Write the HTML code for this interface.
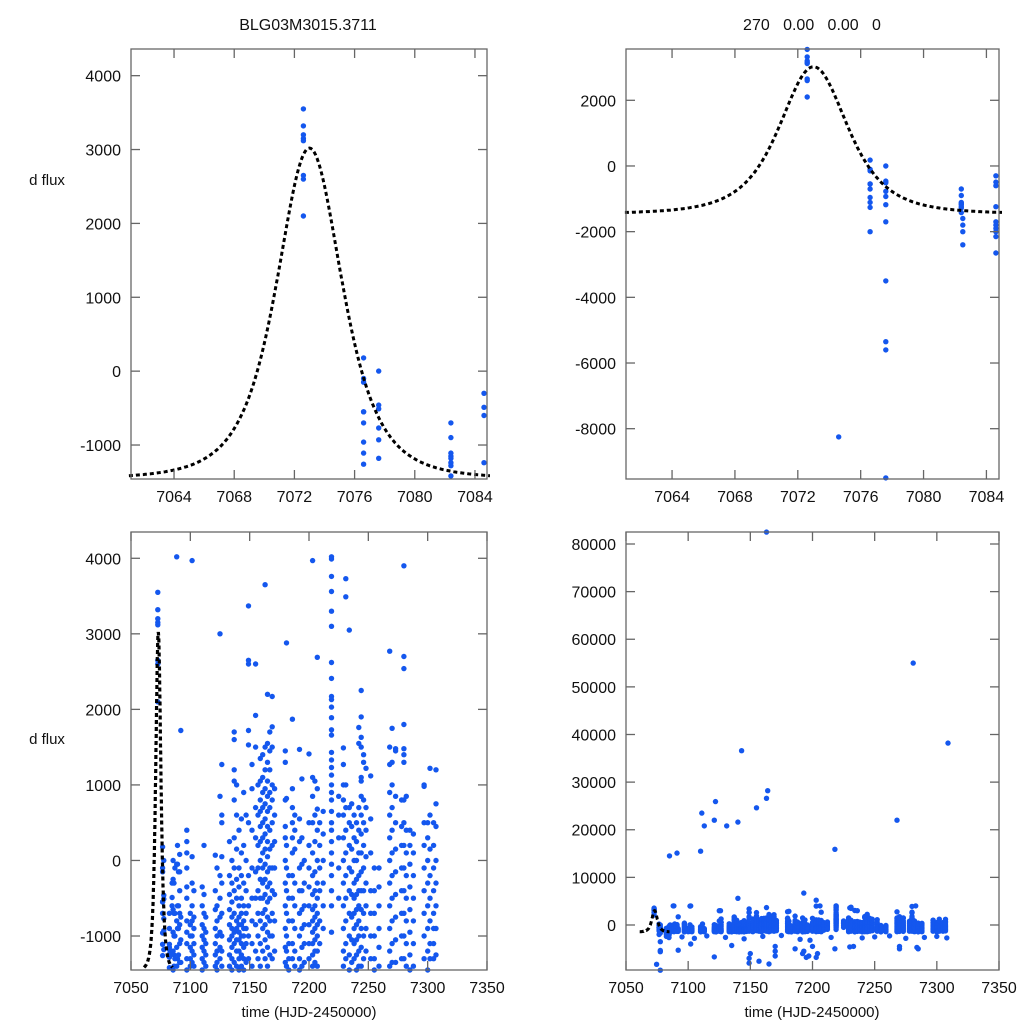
<!DOCTYPE html>
<html><head><meta charset="utf-8">
<style>
html,body{margin:0;padding:0;background:#fff;}
svg{display:block;font-family:"Liberation Sans",sans-serif;}
</style></head>
<body>
<svg id="fig" width="1024" height="1024" viewBox="0 0 1024 1024">
<text x="308" y="30" font-size="16" text-anchor="middle" fill="#111">BLG03M3015.3711</text>
<text x="812" y="30" font-size="16" text-anchor="middle" fill="#111" xml:space="preserve">270   0.00   0.00   0</text>
<text x="47" y="185" font-size="15" text-anchor="middle" fill="#111">d flux</text>
<text x="47" y="744" font-size="15" text-anchor="middle" fill="#111">d flux</text>
<text x="309" y="1017" font-size="15" text-anchor="middle" fill="#111">time (HJD-2450000)</text>
<text x="812" y="1017" font-size="15" text-anchor="middle" fill="#111">time (HJD-2450000)</text>
</svg>
<script>
// ---- data ----
const nightTimes = [7072.6,7076.6,7077.6,7086.2,7089.2,7082.4,7091,7084.6,7085.5,7087,7088.5,7090,7092,7097,7100,7101.5,7103,7110,7111.5,7113,7121,7122.5,7125,7126.5,7133,7135,7137,7139,7141,7143,7145,7147,7149,7152,7155,7157,7159,7161,7163,7165,7167,7169,7171,7180,7181,7183,7186,7188,7192,7194,7196,7200,7203,7205,7207,7209,7212,7219,7225,7229,7231,7234,7236,7238,7240,7242,7244,7246,7248,7252,7255,7259,7268,7270,7273,7278,7280,7282,7285,7288,7297,7300,7302,7305,7307];
const nightValues = [
[3550,3320,3200,3150,3120,2650,2600,2100],
[180,-100,-150,-550,-550,-700,-960,-1110,-1260],
[0,-460,-510,-770,-930,-1180],
[-300,-700,-1000,-1250,-1400],
[200,-50,-600,-900,-1300],
[-700,-900,-1110,-1150,-1180,-1240,-1280,-1420],
[80,-150,-400,-700,-850,-1100,-1350],
[-300,-490,-600,-1240],
[0,-250,-650,-950,-1200,-1450],
[-100,-700,-1000,-1300],
[4020,-50,-800,-1150,-1400],
[-150,-600,-900,-1250],
[1720,-750,-1050,-1350],
[400,250,100,-100,-350,-500,-800,-950,-1100,-1300,-1450],
[-700,-850,-1000,-1150,-1300,-1400],
[3970,50,-300,-600,-800,-1000,-1200,-1350],
[-400,-750,-900,-1100,-1250,-1400],
[-350,-600,-850,-1000,-1150,-1300,-1450],
[200,-450,-700,-900,-1050,-1200,-1350],
[-750,-950,-1100,-1250,-1400],
[70,-400,-650,-900,-1100,-1250,-1400],
[-100,-600,-800,-1000,-1200,-1350,-1450],
[3000,850,-200,-500,-750,-950,-1150,-1300],
[1270,600,500,50,-300,-700,-1000,-1200,-1400],
[250,-200,-450,-650,-850,-1050,-1250,-1400],
[0,-300,-550,-750,-900,-1000,-1150,-1300,-1450],
[1700,1600,1200,1050,800,300,-100,-400,-700,-950,-1100,-1350],
[1000,600,150,-250,-500,-800,-900,-1050,-1200,-1400],
[400,-100,-350,-600,-750,-850,-950,-1050,-1200,-1300,-1450],
[550,100,-200,-500,-700,-850,-1000,-1100,-1250,-1400],
[900,200,-300,-600,-800,-900,-1000,-1150,-1300,-1450],
[600,0,-400,-700,-900,-1100,-1350],
[3370,2650,2600,1720,1530,500,-200,-600,-1000,-1300],
[1270,950,400,-100,-500,-800,-1100,-1400],
[2600,1920,1500,700,300,-150,-500,-850,-1200],
[1000,600,200,-100,-400,-700,-1000,-1300],
[1350,1050,800,650,450,250,0,-250,-500,-800,-1100,-1400],
[1400,1100,900,700,500,300,100,-100,-300,-500,-700,-900,-1200],
[3650,1500,1200,950,750,550,350,150,-50,-250,-450,-650,-850,-1050,-1300],
[2200,1550,1300,1050,850,650,450,250,50,-150,-350,-550,-750,-950,-1150,-1400],
[1700,1450,1200,900,700,400,150,-100,-300,-500,-800,-1000,-1250],
[2170,1770,1500,1000,800,500,200,-100,-400,-700,-1000,-1300],
[950,600,250,-100,-450,-800,-1200],
[1450,1300,800,450,300,0,-300,-600,-900,-1150,-1350],
[2880,820,200,-100,-400,-700,-1000,-1200,-1400],
[-200,-500,-800,-1100,-1300,-1450],
[1870,950,700,500,300,100,-200,-500,-800,-1100,-1300],
[600,400,150,-300,-600,-900,-1200,-1400],
[1470,550,250,-100,-400,-700,-1000,-1300,-1450],
[1080,300,-50,-400,-650,-900,-1150,-1400],
[0,-300,-600,-850,-1100,-1350],
[1410,500,200,-100,-350,-600,-850,-1100,-1300],
[3970,1100,850,500,100,-200,-450,-650,-800,-950,-1100,-1250,-1400],
[1050,600,250,-150,-400,-600,-750,-900,-1050,-1200,-1350],
[2690,950,680,400,0,-300,-500,-700,-850,-1000,-1200,-1400],
[500,200,-100,-400,-800,-1100],
[650,350,0,-300,-600,-900],
[4020,3990,3760,3560,3300,3100,2620,2410,2170,2130,2030,1890,1730,1660,1430,1330,1230,1130,1000,900,800,650,500,400,250,100,-50,-200,-400,-600,-950],
[850,600,300,-100,-500],
[1490,1270,1000,800,600,300,0,-300,-600,-900,-1200,-1400],
[3730,3490,1000,700,400,100,-200,-500,-800,-1100,-1300],
[3050,700,500,200,-100,-400,-700,-1000,-1250,-1450],
[750,450,150,-150,-450,-750,-1050,-1350],
[600,300,0,-300,-500,-700,-900,-1100,-1300],
[500,250,0,-250,-450,-650,-850,-1050,-1250,-1450],
[1760,1550,700,400,100,-200,-400,-600,-800,-1000,-1200,-1400],
[2250,1900,1630,1500,1100,1050,850,600,350,100,-150,-400,-650,-900,-1150,-1400],
[1400,1300,800,500,200,-100,-400,-700,-1000,-1300],
[1220,700,400,50,-300,-600,-900,-1200],
[1120,550,100,-400,-700,-1000,-1300],
[-100,-400,-700,-1000,-1300,-1450],
[-100,-350,-600,-900,-1150,-1400],
[2770,1500,1270,900,600,300,0,-300,-600,-900,-1200,-1400],
[1750,1300,1000,700,400,100,-200,-500,-800,-1100,-1350],
[1480,1450,850,500,150,-150,-450,-750,-1050,-1350],
[800,450,200,-100,-400,-700,-1000,-1300],
[3900,2700,2540,1800,1480,1400,1300,800,500,200,-100,-400,-700,-1000,-1300],
[850,400,100,-200,-500,-800,-1100,-1400],
[400,200,-50,-350,-650,-950,-1250,-1450],
[350,100,-200,-500,-800,-1100,-1400],
[1000,980,500,200,-100,-400,-700,-1000,-1300],
[500,300,0,-300,-600,-900,-1200,-1450],
[1220,600,150,-200,-500,-800,-1100,-1300],
[500,200,-100,-400,-700,-900,-1100,-1300],
[1200,750,450,0,-300,-600,-900,-1250]
];
// raw-only points (not in cleaned set)
const rawTimes = [7076.6,7077.6,7077.6,7077.6,7077.6,7077.6,7074.6,7082.5,7082.5,7082.5,7082.5,7084.6,7084.6,7084.6,7084.6,7084.6,7084.6,
7085,7091,7110,7111,7113,7121,7122,7131,7140,7143,7155,7163,7164,7163,7218,7268,7281,7309,7193,7140,7203,7206,7088,7102,7126,7180,7236,7283,7230,
7092,7102,7121,7135,7149,7149,7150,7157,7165,7170,7170,7170,7186,7192,7193,7195,7197,7200,7203,7204,7218,7230,7233,7270,7270,7285,7284,
7095,7105,7115,7130,7145,7160,7175,7190,7198,7215,7240,7250,7262,7275,7290,7300,7308];
const rawValues = [-2000,-1700,-3500,-5350,-5600,-9500,-8250,-1600,-1800,-2000,-2400,-1700,-1800,-1900,-2000,-2150,-2650,
14500,15100,15500,23500,20800,22000,25900,20800,21600,36600,24600,26600,28200,82500,15900,22000,55000,38200,6700,5600,5200,4000,4000,4000,3000,2800,3000,4000,3600,
-5300,-4000,-6700,-4300,-8000,-7000,-6000,-7600,-8200,-6500,-5500,-4500,-5000,-6000,-5500,-6800,-6500,-4500,-6800,-6000,-5000,-4600,-4500,-5000,-4500,-5000,-4700,
-2500,-2800,-2300,-2600,-2900,-2400,-2200,-3000,-3200,-2600,-2700,-2500,-2300,-2800,-2600,-2400,-2700];
// microlensing model parameters: t0, peak height, baseline, width
const modelT0 = [7073];
const modelPeak = [4480];
const modelBase = [-1460];
const modelWidth = [4];
const modelRange = [7061, 7085];

const panels = [
 {name:'top-left',  x0:131,x1:487,y0:49,y1:479, xmin:7061.14,xmax:7084.8, ymin:-1460,ymax:4361, xt:[7064,7068,7072,7076,7080,7084], yt:[-1000,0,1000,2000,3000,4000], raw:false, lw:3},
 {name:'top-right', x0:626,x1:999,y0:49,y1:479, xmin:7061.07,xmax:7084.8, ymin:-9532,ymax:3562, xt:[7064,7068,7072,7076,7080,7084], yt:[-8000,-6000,-4000,-2000,0,2000], raw:true, lw:3},
 {name:'bottom-left', x0:131,x1:487,y0:532,y1:970, xmin:7050,xmax:7350, ymin:-1450,ymax:4348, xt:[7050,7100,7150,7200,7250,7300,7350], yt:[-1000,0,1000,2000,3000,4000], raw:false, lw:3.2},
 {name:'bottom-right', x0:626,x1:999,y0:532,y1:970, xmin:7050,xmax:7350, ymin:-9450,ymax:82520, xt:[7050,7100,7150,7200,7250,7300,7350], yt:[0,10000,20000,30000,40000,50000,60000,70000,80000], raw:true, lw:3}
];

const NS='http://www.w3.org/2000/svg';
const svg=document.getElementById('fig');
function mk(tag,attrs,parent){const e=document.createElementNS(NS,tag);for(const k in attrs)e.setAttribute(k,attrs[k]);(parent||svg).appendChild(e);return e;}
function model(t){const x=(t-modelT0[0])/modelWidth[0];return modelBase[0]+modelPeak[0]/Math.pow(1+x*x,2);}

panels.forEach((p,pi)=>{
  const sx=v=>p.x0+(v-p.xmin)/(p.xmax-p.xmin)*(p.x1-p.x0);
  const sy=v=>p.y1-(v-p.ymin)/(p.ymax-p.ymin)*(p.y1-p.y0);
  const g=mk('g',{});
  
  
  const cid='clip'+pi;
  const cp=mk('clipPath',{id:cid},g);
  mk('rect',{x:p.x0-3,y:p.y0-3,width:p.x1-p.x0+6,height:p.y1-p.y0+6},cp);
  const dots=mk('g',{'clip-path':'url(#'+cid+')',fill:'#1457ee'},g);
  
  
  const inX=t=>t>=p.xmin-0.3&&t<=p.xmax+0.3;
  nightTimes.forEach((t,i)=>{ if(!inX(t))return; nightValues[i].forEach(v=>{
    const c=mk('circle',{cx:sx(t).toFixed(1),cy:sy(v).toFixed(1),r:2.7},dots);
    
    
  });});
  if(p.raw){ rawTimes.forEach((t,i)=>{ if(!inX(t))return;
    const c=mk('circle',{cx:sx(t).toFixed(1),cy:sy(rawValues[i]).toFixed(1),r:2.7},dots);
    
    
  });}
  let d='';
  for(let k=0;k<=240;k++){const t=modelRange[0]+(modelRange[1]-modelRange[0])*k/240;d+=(k?'L':'M')+sx(t).toFixed(1)+' '+sy(model(t)).toFixed(1);}
  const cg=mk('g',{'clip-path':'url(#'+cid+')'},g);
  const path=mk('path',{d:d,fill:'none',stroke:'#000','stroke-width':p.lw,'stroke-dasharray':'4 3'},cg);
  
  
  const fr=mk('rect',{x:p.x0,y:p.y0,width:p.x1-p.x0,height:p.y1-p.y0,fill:'none',stroke:'#666','stroke-width':1.3},g);
  
  
  p.xt.forEach(v=>{const x=sx(v);
    mk('line',{x1:x,x2:x,y1:p.y1,y2:p.y1-9,stroke:'#666','stroke-width':1.3},g);
    mk('line',{x1:x,x2:x,y1:p.y0,y2:p.y0+9,stroke:'#666','stroke-width':1.3},g);
    const tx=mk('text',{x:x,y:p.y1+23,'font-size':16,'text-anchor':'middle',fill:'#111'},g);
    tx.textContent=v;
    
    
  });
  p.yt.forEach(v=>{const y=sy(v);
    mk('line',{x1:p.x0,x2:p.x0+9,y1:y,y2:y,stroke:'#666','stroke-width':1.3},g);
    mk('line',{x1:p.x1,x2:p.x1-9,y1:y,y2:y,stroke:'#666','stroke-width':1.3},g);
    const tx=mk('text',{x:p.x0-10,y:y+6,'font-size':16,'text-anchor':'end',fill:'#111'},g);
    tx.textContent=v;
    
    
  });
});
</script>
</body></html>
